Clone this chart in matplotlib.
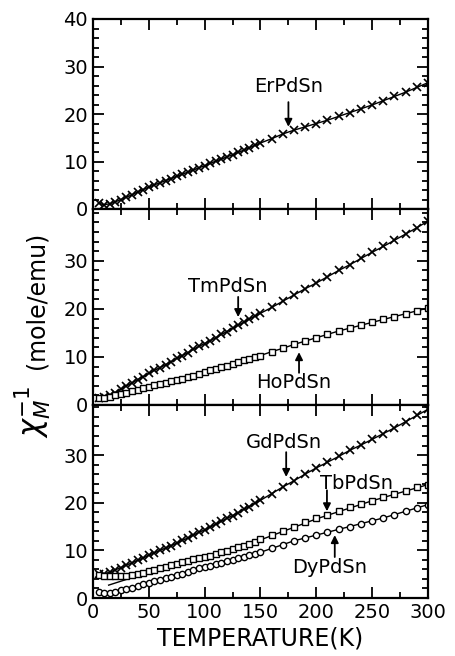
import numpy as np
import matplotlib.pyplot as plt
from matplotlib.ticker import MultipleLocator

# temperature grid (K)
T = [5, 10, 15, 20, 25, 30, 35, 40, 45, 50, 55, 60, 65, 70, 75, 80, 85, 90, 95, 100,
     105, 110, 115, 120, 125, 130, 135, 140, 145, 150,
     160, 170, 180, 190, 200, 210, 220, 230, 240, 250, 260, 270, 280, 290, 300]

# inverse susceptibility (mole/emu)
er = [1.2, 0.9, 1.1, 1.5, 2.0, 2.5, 3.0, 3.6, 4.1, 4.6, 5.1, 5.5, 6.0, 6.4, 6.9, 7.3, 7.8, 8.2, 8.7, 9.1,
      9.6, 10.1, 10.5, 11.0, 11.4, 11.9, 12.4, 12.9, 13.4, 13.9,
      14.8, 15.8, 16.6, 17.3, 18.0, 18.7, 19.5, 20.3, 21.1, 21.9, 22.8, 23.7, 24.6, 25.6, 26.6]
tm = [1.5, 1.6, 2.0, 2.6, 3.3, 4.0, 4.6, 5.3, 5.9, 6.6, 7.2, 7.8, 8.4, 9.0, 9.7, 10.3, 10.9, 11.6, 12.2, 12.8,
      13.4, 14.0, 14.7, 15.3, 16.0, 16.6, 17.2, 17.9, 18.5, 19.1,
      20.3, 21.6, 22.9, 24.2, 25.4, 26.7, 28.0, 29.2, 30.5, 31.8, 33.0, 34.3, 35.6, 36.9, 38.3]
ho = [1.5, 1.4, 1.6, 2.0, 2.3, 2.6, 2.9, 3.2, 3.5, 3.8, 4.1, 4.3, 4.6, 4.9, 5.2, 5.5, 5.8, 6.1, 6.5, 6.8,
      7.2, 7.5, 7.9, 8.2, 8.6, 8.9, 9.3, 9.6, 10.0, 10.3,
      11.1, 11.8, 12.6, 13.3, 14.0, 14.7, 15.4, 16.0, 16.6, 17.2, 17.8, 18.4, 19.0, 19.6, 20.2]
gd = [5.0, 5.1, 5.4, 5.9, 6.4, 6.9, 7.4, 7.9, 8.4, 9.0, 9.5, 10.0, 10.5, 11.0, 11.5, 12.1, 12.6, 13.2, 13.8, 14.3,
      14.9, 15.5, 16.1, 16.7, 17.3, 17.9, 18.6, 19.2, 19.9, 20.5,
      21.9, 23.3, 24.6, 26.0, 27.3, 28.5, 29.7, 31.0, 32.1, 33.3, 34.5, 35.7, 37.0, 38.3, 39.6]
tb = [4.8, 4.7, 4.6, 4.6, 4.6, 4.7, 4.8, 5.0, 5.3, 5.6, 5.9, 6.3, 6.6, 6.9, 7.2, 7.5, 7.8, 8.1, 8.4, 8.6,
      8.9, 9.2, 9.6, 9.9, 10.2, 10.6, 11.0, 11.4, 11.8, 12.3,
      13.2, 14.1, 15.0, 15.9, 16.7, 17.4, 18.2, 19.0, 19.7, 20.4, 21.1, 21.8, 22.5, 23.2, 23.8]
dy = [1.3, 1.0, 1.1, 1.3, 1.6, 1.9, 2.2, 2.5, 2.9, 3.2, 3.5, 3.8, 4.1, 4.5, 4.8, 5.1, 5.5, 5.8, 6.2, 6.5,
      6.8, 7.1, 7.4, 7.7, 8.0, 8.3, 8.6, 9.0, 9.3, 9.6,
      10.4, 11.2, 12.0, 12.6, 13.2, 13.8, 14.4, 15.0, 15.6, 16.2, 16.8, 17.5, 18.2, 18.9, 19.6]

# TbPdSn fitted line
tb_fit_T = [14, 30, 50, 75, 100, 150, 200, 250, 300]
tb_fit = [2.7, 3.9, 5.4, 7.1, 8.7, 12.2, 16.6, 20.4, 23.8]

plt.rcParams['font.family'] = 'DejaVu Sans'

fig = plt.figure(figsize=(4.56, 6.56), dpi=100)
L, W = 93 / 456, 335 / 456
ax1 = fig.add_axes([L, 1 - 209 / 656, W, 190 / 656])
ax2 = fig.add_axes([L, 1 - 405 / 656, W, 196 / 656])
ax3 = fig.add_axes([L, 1 - 598 / 656, W, 193 / 656])

for ax, top in [(ax1, 40), (ax2, 40.8), (ax3, 40.5)]:
    ax.set_xlim(0, 300)
    ax.set_ylim(0, top)
    ax.xaxis.set_major_locator(MultipleLocator(50))
    ax.xaxis.set_minor_locator(MultipleLocator(25))
    ax.yaxis.set_major_locator(MultipleLocator(10))
    ax.yaxis.set_minor_locator(MultipleLocator(2))
    ax.tick_params(which='both', direction='in', top=True, right=True, width=1.3, labelsize=14)
    ax.tick_params(which='major', length=8)
    ax.tick_params(which='minor', length=4.5)
    for s in ax.spines.values():
        s.set_linewidth(1.6)
    if ax is not ax3:
        ax.set_xticklabels([])

ax2.set_yticks([0, 10, 20, 30])
ax3.set_yticks([0, 10, 20, 30])
ax2.yaxis.set_minor_locator(MultipleLocator(2))
ax3.yaxis.set_minor_locator(MultipleLocator(2))

xs = dict(marker='x', ms=5.5, mew=1.2, color='k', lw=1)
sq = dict(marker='s', ms=4.5, mew=1, mfc='white', mec='k', color='k', lw=1)
ci = dict(marker='o', ms=4.5, mew=1, mfc='white', mec='k', color='k', lw=1)

ax1.plot(T, er, **xs)
ax2.plot(T, tm, **xs)
ax2.plot(T, ho, **sq)
ax3.plot(T, gd, **xs)
ax3.plot(tb_fit_T, tb_fit, color='k', lw=1)
ax3.plot(T, tb, ls='none', **{k: v for k, v in sq.items() if k != 'lw'})
ax3.plot(T, dy, **ci)

arr = dict(arrowstyle='-|>', color='k', lw=1.3, mutation_scale=11, shrinkA=0, shrinkB=0)
fs = 14

ax1.text(175, 25.7, 'ErPdSn', ha='center', va='center', fontsize=fs)
ax1.annotate('', xy=(175, 17.3), xytext=(175, 22.5), arrowprops=arr)

ax2.text(121, 24.6, 'TmPdSn', ha='center', va='center', fontsize=fs)
ax2.annotate('', xy=(130, 18.3), xytext=(130, 22.5), arrowprops=arr)
ax2.text(180, 4.6, 'HoPdSn', ha='center', va='center', fontsize=fs)
ax2.annotate('', xy=(184.5, 11), xytext=(184.5, 6.7), arrowprops=arr)

ax3.text(171, 32.7, 'GdPdSn', ha='center', va='center', fontsize=fs)
ax3.annotate('', xy=(173, 25.4), xytext=(173, 30.6), arrowprops=arr)
ax3.text(236, 24.1, 'TbPdSn', ha='center', va='center', fontsize=fs)
ax3.annotate('', xy=(209.5, 18.2), xytext=(209.5, 22.6), arrowprops=arr)
ax3.text(212, 6.5, 'DyPdSn', ha='center', va='center', fontsize=fs)
ax3.annotate('', xy=(216.5, 13.2), xytext=(216.5, 8.6), arrowprops=arr)

ax3.set_xlabel('TEMPERATURE(K)', fontsize=17, labelpad=3)
fig.text(0.08, 1 - 300 / 656, '(mole/emu)', rotation=90, ha='center', va='center', fontsize=17)
fig.text(0.072, 1 - 412 / 656, r'$\chi_M^{-1}$', rotation=90, ha='center', va='center', fontsize=22)

fig.savefig('out.png', dpi=100)
